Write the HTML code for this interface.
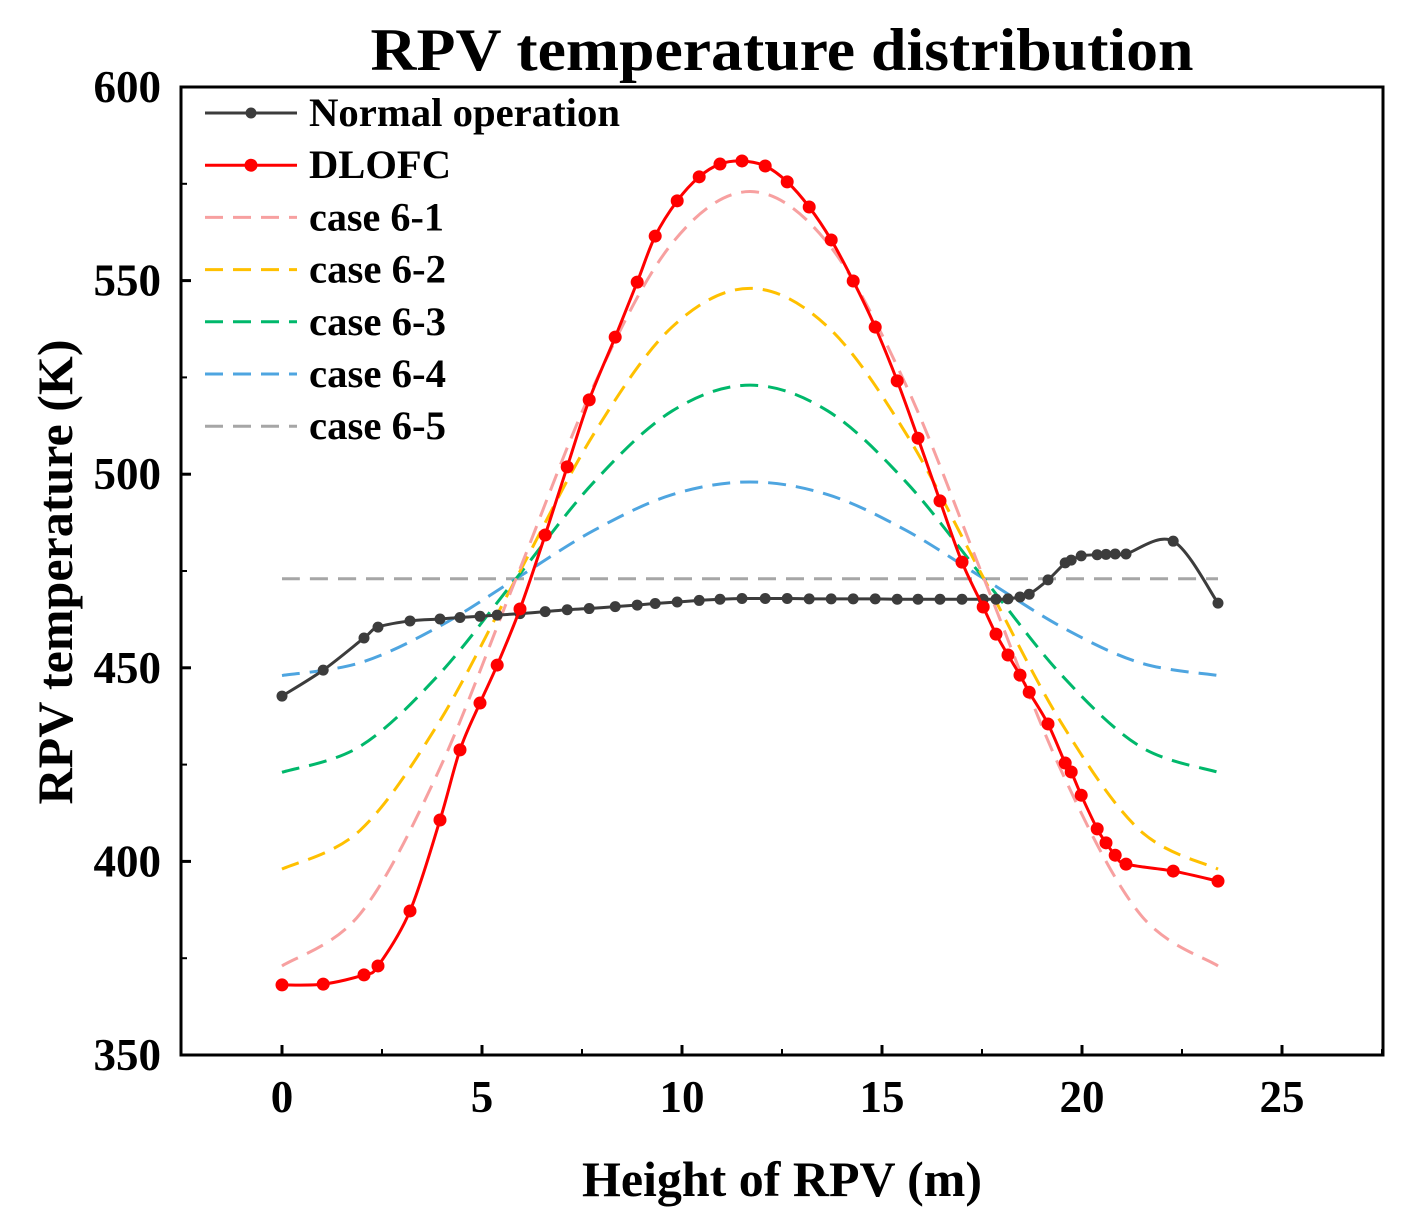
<!DOCTYPE html>
<html><head><meta charset="utf-8"><style>
html,body{margin:0;padding:0;background:#fff;}
svg text{font-family:"Liberation Serif",serif;font-weight:bold;fill:#000;}
</style></head><body>
<svg id="chart" width="1412" height="1227" viewBox="0 0 1412 1227" xmlns="http://www.w3.org/2000/svg">
<text x="782" y="70" font-size="60" text-anchor="middle" textLength="823" lengthAdjust="spacingAndGlyphs">RPV temperature distribution</text>
<g id="grid"></g>
<g id="series"></g>
<rect x="181" y="87" width="1202" height="968" fill="none" stroke="#000" stroke-width="3"/>
<g id="ticks"></g>
<text x="782" y="1196" font-size="50" text-anchor="middle" textLength="400" lengthAdjust="spacingAndGlyphs">Height of RPV (m)</text>
<text transform="translate(72,572) rotate(-90)" font-size="50" text-anchor="middle" textLength="465" lengthAdjust="spacingAndGlyphs">RPV temperature (K)</text>
<g id="legend"></g>
</svg>
<script>
const xTicks=[0,5,10,15,20,25];
const yTicks=[350,400,450,500,550,600];
const dlofcX=[0,1.03,2.05,2.4,3.2,3.95,4.45,4.95,5.38,5.95,6.58,7.13,7.68,8.33,8.88,9.33,9.88,10.43,10.95,11.5,12.08,12.63,13.18,13.73,14.28,14.83,15.38,15.9,16.45,17.0,17.53,17.85,18.15,18.45,18.68,19.15,19.58,19.73,19.98,20.38,20.6,20.83,21.1,22.28,23.4];
const dlofcY=[368.1,368.3,370.7,373,387.2,410.7,428.8,440.9,450.7,465.2,484.3,501.9,519.2,535.4,549.6,561.5,570.6,576.8,580.1,580.9,579.6,575.5,569,560.5,549.9,538,524.1,509.3,493.1,477.3,465.7,458.7,453.3,448.1,443.7,435.5,425.4,423.1,417.1,408.4,404.8,401.6,399.3,397.5,394.9];
const normalX=[0,1.03,2.05,2.4,3.2,3.95,4.45,4.95,5.38,5.95,6.58,7.13,7.68,8.33,8.88,9.33,9.88,10.43,10.95,11.5,12.08,12.63,13.18,13.73,14.28,14.83,15.38,15.9,16.45,17.0,17.53,17.85,18.15,18.45,18.68,19.15,19.58,19.73,19.98,20.38,20.6,20.83,21.1,22.28,23.4];
const normalY=[442.7,449.4,457.7,460.5,462.1,462.6,463,463.3,463.6,464,464.5,465,465.3,465.8,466.2,466.6,467,467.4,467.7,467.9,467.9,467.9,467.8,467.8,467.8,467.8,467.7,467.7,467.7,467.7,467.7,467.7,467.8,468.3,469,472.7,477.1,477.8,478.9,479.2,479.3,479.4,479.4,482.7,466.7];
const caseX=[0,1.95,3.9,5.85,7.8,9.75,11.7,13.65,15.6,17.55,19.5,21.45,23.4];
const case1Y=[373,386.4,423,473,523,559.6,573,559.6,523,473,423,386.4,373];
const case2Y=[398,408,435.5,473,510.5,538,548,538,510.5,473,435.5,408,398];
const case3Y=[423,429.7,448,473,498,516.3,523,516.3,498,473,448,429.7,423];
const case4Y=[448,451.3,460.5,473,485.5,494.7,498,494.7,485.5,473,460.5,451.3,448];
const case5Y=[473,473,473,473,473,473,473,473,473,473,473,473,473];
const legendLabels=["Normal operation","DLOFC","case 6-1","case 6-2","case 6-3","case 6-4","case 6-5"];
const legendWidths=[311,142,135,137,137,137,137];

const NS="http://www.w3.org/2000/svg";
const X=v=>282+v*40;
const Y=v=>87+(600-v)*3.872;
function mk(tag,attrs,parent){const e=document.createElementNS(NS,tag);for(const k in attrs)e.setAttribute(k,attrs[k]);parent.appendChild(e);return e;}
function smooth(xs,ys){
  const p=xs.map((x,i)=>[X(x),Y(ys[i])]);
  let d=`M${p[0][0]},${p[0][1]}`;
  for(let i=0;i<p.length-1;i++){
    const p0=p[i-1]||p[i],p1=p[i],p2=p[i+1],p3=p[i+2]||p2;
    const c1=[p1[0]+(p2[0]-p0[0])/6,p1[1]+(p2[1]-p0[1])/6];
    const c2=[p2[0]-(p3[0]-p1[0])/6,p2[1]-(p3[1]-p1[1])/6];
    d+=` C${c1[0]},${c1[1]} ${c2[0]},${c2[1]} ${p2[0]},${p2[1]}`;
  }
  return d;
}
const ticks=document.getElementById('ticks');
xTicks.forEach(t=>{
  const l=mk('line',{x1:X(t),x2:X(t),y1:1055,y2:1045,stroke:'#000','stroke-width':3},ticks);
  
  
  const m=mk('line',{x1:X(t+2.5),x2:X(t+2.5),y1:1055,y2:1049,stroke:'#000','stroke-width':2},ticks);
  
  
  const tx=mk('text',{x:X(t),y:1112,'font-size':45,'text-anchor':'middle'},ticks);
  tx.textContent=t;
  
  
});
yTicks.forEach(t=>{
  const l=mk('line',{x1:181,x2:191,y1:Y(t),y2:Y(t),stroke:'#000','stroke-width':3},ticks);
  
  
  if(t<600){const m=mk('line',{x1:181,x2:187,y1:Y(t+25),y2:Y(t+25),stroke:'#000','stroke-width':2},ticks);
  
  }
  const tx=mk('text',{x:161,y:Y(t)+15,'font-size':45,'text-anchor':'end'},ticks);
  tx.textContent=t;
  
  
});
const S=document.getElementById('series');
const dashSeries=[[case5Y,'#a6a6a6','case-6-5'],[case4Y,'#4ea5e0','case-6-4'],[case3Y,'#00b86b','case-6-3'],[case2Y,'#ffc000','case-6-2'],[case1Y,'#f7a0a0','case-6-1']];
dashSeries.forEach(([ys,c,n])=>{
  const p=mk('path',{d:smooth(caseX,ys),fill:'none',stroke:c,'stroke-width':3,'stroke-dasharray':'18 10'},S);
  
  
});
[[normalX,normalY,'#3c3c3c','normal-operation',5.5],[dlofcX,dlofcY,'#ff0000','dlofc',6.5]].forEach(([xs,ys,c,n,r])=>{
  const p=mk('path',{d:smooth(xs,ys),fill:'none',stroke:c,'stroke-width':3},S);
  
  
  xs.forEach((x,i)=>{
    const m=mk('circle',{cx:X(x),cy:Y(ys[i]),r:r,fill:c},S);
    
    
  });
});
const L=document.getElementById('legend');
const lc=['#3c3c3c','#ff0000','#f7a0a0','#ffc000','#00b86b','#4ea5e0','#a6a6a6'];
legendLabels.forEach((lab,i)=>{
  const y=113+i*52.2;
  const g=mk('g',{},L);
  
  
  const attrs={x1:205,x2:297,y1:y,y2:y,stroke:lc[i],'stroke-width':3};
  if(i>=2)attrs['stroke-dasharray']='18 10';
  mk('line',attrs,g);
  if(i<2)mk('circle',{cx:251,cy:y,r:i?6.5:5.5,fill:lc[i]},g);
  const t=mk('text',{x:309,y:y+13,'font-size':40,textLength:legendWidths[i],lengthAdjust:'spacingAndGlyphs'},g);
  t.textContent=lab;
});
</script>
</body></html>
